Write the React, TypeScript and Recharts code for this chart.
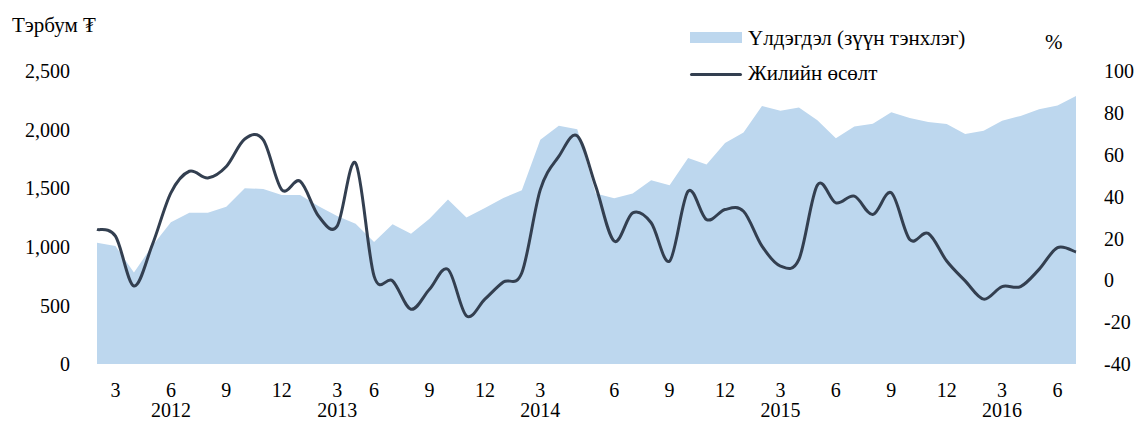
import React from "react";
import { ComposedChart, Area, Line, XAxis, YAxis } from "recharts";

const months = [
  "", "3", "", "", "6", "", "", "9", "", "", "12", "", "", "3", "", "6", "", "", "9", "", "", "12", "", "",
  "3", "", "", "", "6", "", "", "9", "", "", "12", "", "", "3", "", "", "6", "", "", "9", "", "", "12", "", "",
  "3", "", "", "6", "",
];
const years = [
  "", "", "", "", "2012", "", "", "", "", "", "", "", "", "2013", "", "", "", "", "", "", "", "", "", "",
  "2014", "", "", "", "", "", "", "", "", "", "", "", "", "2015", "", "", "", "", "", "", "", "", "", "", "",
  "2016", "", "", "", "",
];
// balance, bn MNT (left axis)
const balance = [
  1035, 1006, 780, 1010, 1210, 1290, 1290, 1341, 1499, 1494, 1443, 1443, 1346, 1262, 1196, 1040, 1193, 1111,
  1239, 1403, 1250, 1332, 1417, 1482, 1913, 2032, 2004, 1454, 1414, 1454, 1567, 1525, 1757, 1703, 1885, 1975,
  2202, 2160, 2188, 2080, 1927, 2027, 2049, 2149, 2098, 2064, 2047, 1962, 1990, 2075, 2117, 2174, 2205, 2287,
];
// annual growth, % (right axis)
const growth = [
  24.3, 21.1, -2.7, 17.1, 41.8, 52.1, 48.9, 54.4, 67.5, 67.1, 43.3, 47.3, 30.6, 25.9, 56.0, 2.0, -0.3, -13.8,
  -4.3, 5.2, -17.0, -9.0, -0.8, 3.6, 43.3, 59.2, 69.0, 44.9, 18.7, 32.2, 27.5, 9.2, 42.5, 29.0, 33.8, 33.0,
  16.3, 6.8, 10.0, 45.5, 37.0, 40.2, 31.4, 41.8, 19.5, 22.4, 9.2, -0.3, -9.0, -3.0, -3.0, 5.2, 15.6, 13.5,
];
const leftTicks = [0, 500, 1000, 1500, 2000, 2500];
const rightTicks = [-40, -20, 0, 20, 40, 60, 80, 100];

const data = balance.map((b, i) => ({ key: i, balance: b, growth: growth[i] }));

const FONT = '"Liberation Serif", "Times New Roman", serif';
const AREA_COLOR = "#BDD7EE";
const LINE_COLOR = "#333F50";

// Excel-like smoothing (Catmull-Rom through the points)
const smooth = (ctx: any) => {
  let pts: number[][] = [];
  return {
    areaStart() {},
    areaEnd() {},
    lineStart() {
      pts = [];
    },
    point(x: number, y: number) {
      pts.push([+x, +y]);
    },
    lineEnd() {
      if (!pts.length) return;
      ctx.moveTo(pts[0][0], pts[0][1]);
      for (let i = 0; i < pts.length - 1; i++) {
        const p0 = pts[i - 1] || pts[i];
        const p1 = pts[i];
        const p2 = pts[i + 1];
        const p3 = pts[i + 2] || p2;
        ctx.bezierCurveTo(
          p1[0] + (p2[0] - p0[0]) / 6,
          p1[1] + (p2[1] - p0[1]) / 6,
          p2[0] - (p3[0] - p1[0]) / 6,
          p2[1] - (p3[1] - p1[1]) / 6,
          p2[0],
          p2[1]
        );
      }
    },
  };
};

const MonthTick = (props: any) => {
  const { x, y, payload } = props;
  const i = payload.index;
  return (
    <g>
      {months[i] && (
        <text x={x} y={y + 24} dy="0.35em" textAnchor="middle" fill="#000" fontSize={20} fontFamily={FONT}>
          {months[i]}
        </text>
      )}
      {years[i] && (
        <text x={x} y={y + 44} dy="0.35em" textAnchor="middle" fill="#000" fontSize={20} fontFamily={FONT}>
          {years[i]}
        </text>
      )}
    </g>
  );
};

const textStyle: React.CSSProperties = {
  position: "absolute",
  fontFamily: FONT,
  fontSize: 21,
  lineHeight: "21px",
  color: "#000",
  whiteSpace: "nowrap",
};

export default function App() {
  const tick = { fill: "#000", fontSize: 20, fontFamily: FONT };
  return (
    <div style={{ position: "absolute", left: 0, top: 0, width: 1137, height: 421, background: "#fff" }}>
      <ComposedChart width={1137} height={421} data={data} margin={{ top: 71, right: 0, bottom: 0, left: 0 }}>
        <XAxis
          dataKey="key"
          scale="point"
          padding={{ left: 0, right: 0 }}
          interval={0}
          axisLine={false}
          tickLine={false}
          tickSize={0}
          height={57}
          tick={<MonthTick />}
        />
        <YAxis
          yAxisId="left"
          orientation="left"
          width={97}
          domain={[0, 2500]}
          ticks={leftTicks}
          axisLine={false}
          tickLine={false}
          tickSize={0}
          tickMargin={27}
          tick={tick}
          tickFormatter={(v: number) => v.toLocaleString("en-US")}
        />
        <YAxis
          yAxisId="right"
          orientation="right"
          width={61}
          domain={[-40, 100]}
          ticks={rightTicks}
          axisLine={false}
          tickLine={false}
          tickSize={0}
          tickMargin={28}
          tick={{ ...tick, textAnchor: "start" }}
        />
        <Area
          yAxisId="left"
          type="linear"
          dataKey="balance"
          fill={AREA_COLOR}
          fillOpacity={1}
          stroke="none"
          isAnimationActive={false}
        />
        <Line
          yAxisId="right"
          type={smooth as any}
          dataKey="growth"
          stroke={LINE_COLOR}
          strokeWidth={3}
          dot={false}
          activeDot={false}
          isAnimationActive={false}
        />
      </ComposedChart>

      <div style={{ ...textStyle, left: 12, top: 15 }}>Тэрбум ₮</div>
      <div style={{ ...textStyle, left: 1045, top: 32 }}>%</div>

      <div style={{ position: "absolute", left: 690, top: 32, width: 52, height: 11, background: AREA_COLOR }} />
      <div style={{ ...textStyle, left: 748, top: 28 }}>Үлдэгдэл (зүүн тэнхлэг)</div>
      <div
        style={{ position: "absolute", left: 690, top: 72.5, width: 52, height: 3, background: LINE_COLOR, borderRadius: 2 }}
      />
      <div style={{ ...textStyle, left: 748, top: 63 }}>Жилийн өсөлт</div>
    </div>
  );
}
